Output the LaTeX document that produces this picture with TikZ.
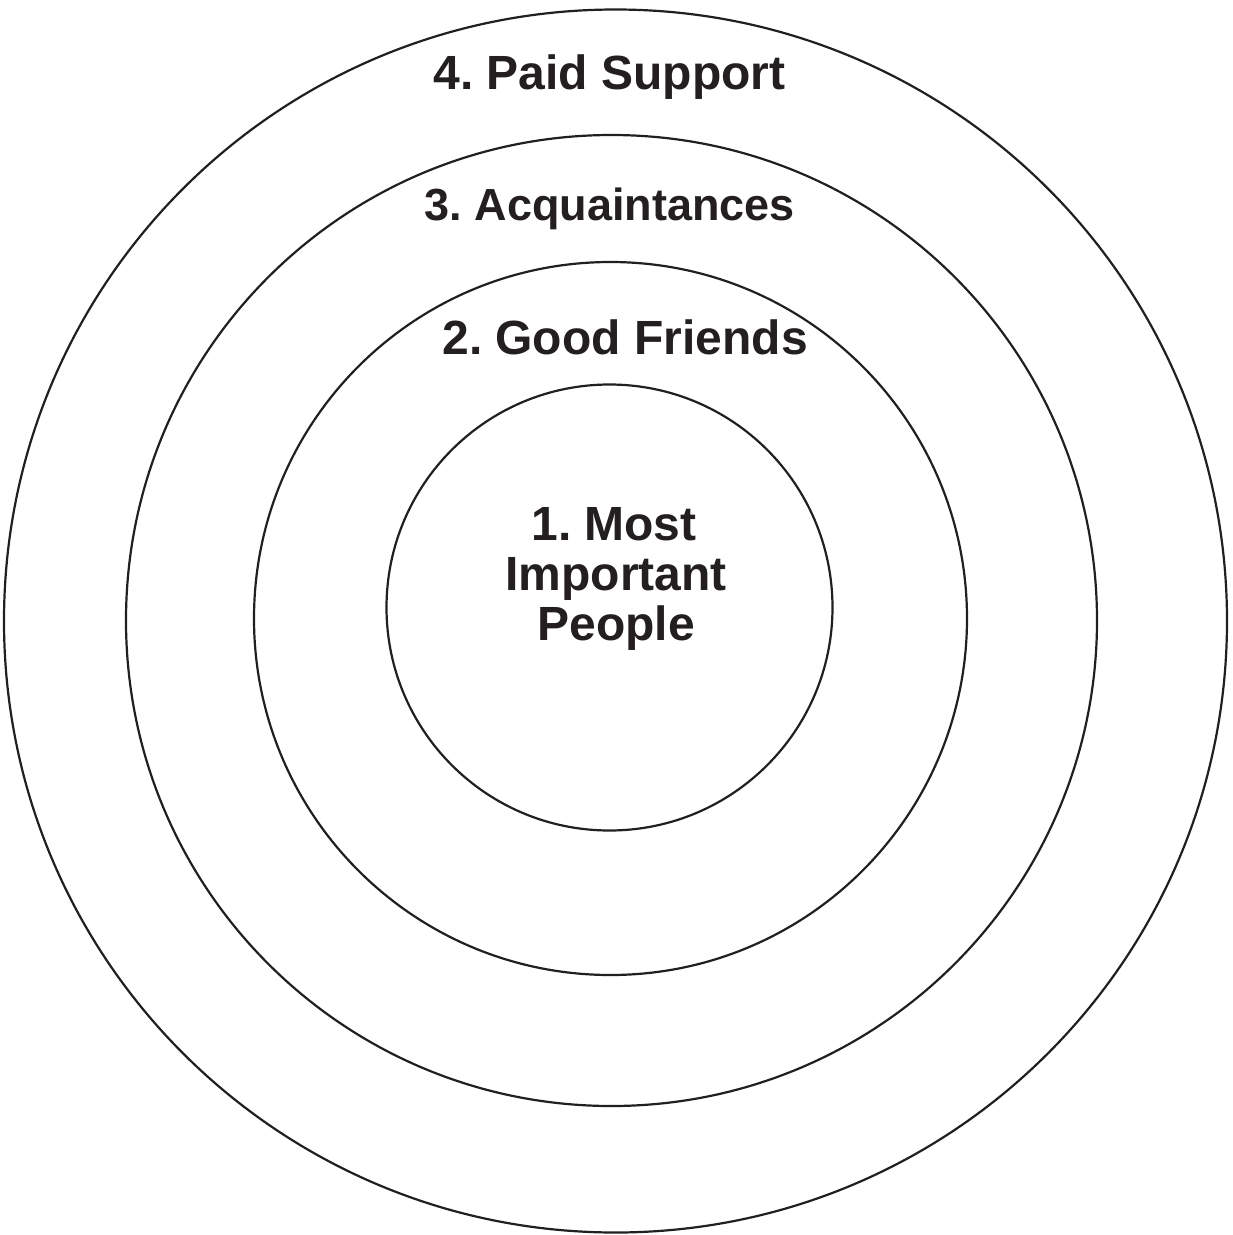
\documentclass[tikz,border=0pt]{standalone}
\usepackage{fontspec}
\setmainfont{Liberation Sans}
\definecolor{ink}{HTML}{231F20}
\frenchspacing
\begin{document}
\begin{tikzpicture}[x=1pt,y=-1pt,
  ring/.style={circle, draw=ink, line width=2.2pt, inner sep=0pt, outer sep=0pt},
  lbl/.style={anchor=base, inner sep=0pt, text=ink, font=\bfseries\fontsize{48}{50}\selectfont}]
\useasboundingbox (0,0) rectangle (1233,1235);
\node[ring, minimum size=1223pt] (c4) at (615.5,621) {};
\node[ring, minimum size=971pt] (c3) at (611.5,620.5) {};
\node[ring, minimum size=713pt] (c2) at (610.5,618.5) {};
\node[ring, minimum size=446pt] (c1) at (609.5,607.5) {};
\node[lbl] (t4) at (609.5,89) {4. Paid Support};
\node[lbl, font=\bfseries\fontsize{45}{47}\selectfont] (t3) at (610,220) {3. Acquaintances};
\node[lbl] (t2) at (625,354) {2. Good Friends};
\node[lbl] (m1) at (614,540) {1. Most};
\node[lbl] (m2) at (616,590) {Important};
\node[lbl] (m3) at (616,640) {People};
\end{tikzpicture}
\end{document}
